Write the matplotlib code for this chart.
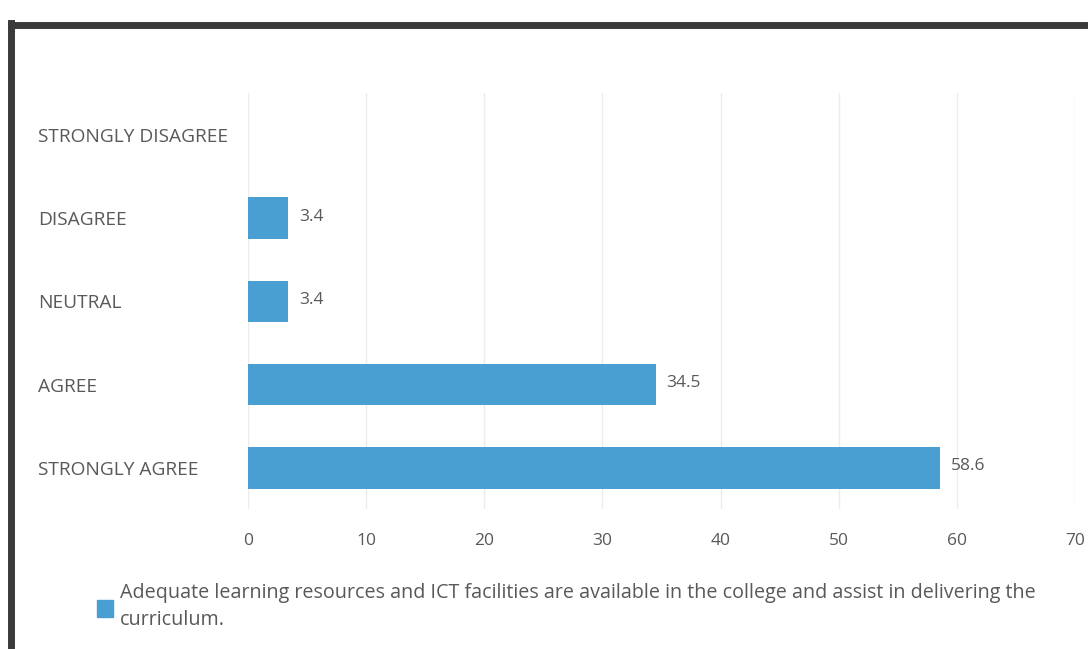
import matplotlib.pyplot as plt
from matplotlib.patches import Rectangle
from matplotlib.lines import Line2D

categories = ['STRONGLY AGREE', 'AGREE', 'NEUTRAL', 'DISAGREE', 'STRONGLY DISAGREE']
values = [58.6, 34.5, 3.4, 3.4, 0]
x_ticks = [0, 10, 20, 30, 40, 50, 60, 70]
legend_label = ('Adequate learning resources and ICT facilities are available in the college and assist in delivering the\n'
                'curriculum.')

bar_color = '#4a9fd2'
text_grey = '#595959'

plt.rcParams['font.family'] = ['Open Sans', 'DejaVu Sans']

fig = plt.figure(figsize=(10.88, 6.49), dpi=100)
ax = fig.add_axes([0.228, 0.215, 0.76, 0.641])

ax.barh(range(len(categories)), values, height=0.5, color=bar_color)
for i, v in enumerate(values):
    if v > 0:
        ax.text(v + 0.9, i + 0.02, f'{v}', va='center', ha='left', fontsize=12.5, color=text_grey)

ax.set_xlim(0, 70)
ax.set_ylim(-0.5, len(categories) - 0.5)
ax.set_xticks(x_ticks)
ax.set_xticklabels([str(t) for t in x_ticks], fontsize=12.5, color=text_grey)
ax.set_yticks(range(len(categories)))
ax.set_yticklabels(categories, fontsize=13.8, color=text_grey, ha='left')
ax.tick_params(axis='y', length=0, pad=151)
ax.tick_params(axis='x', length=0, pad=17)
ax.grid(axis='x', color='#ececec', linewidth=1)
ax.set_axisbelow(True)
for s in ax.spines.values():
    s.set_visible(False)

# legend below the plot
fig.add_artist(Rectangle((0.089, 0.049), 0.0145, 0.026, transform=fig.transFigure,
                         color=bar_color))
fig.text(0.110, 0.102, legend_label, fontsize=14.2, color=text_grey, va='top', ha='left',
         linespacing=1.45)

# dark frame of the scanned page
fig.add_artist(Line2D([0.0105, 1.0], [0.961, 0.961], transform=fig.transFigure,
                      color='#3a3a3a', linewidth=5))
fig.add_artist(Line2D([0.0105, 0.0105], [0.0, 0.964], transform=fig.transFigure,
                      color='#3a3a3a', linewidth=5))

fig.savefig('out.png', dpi=100)
